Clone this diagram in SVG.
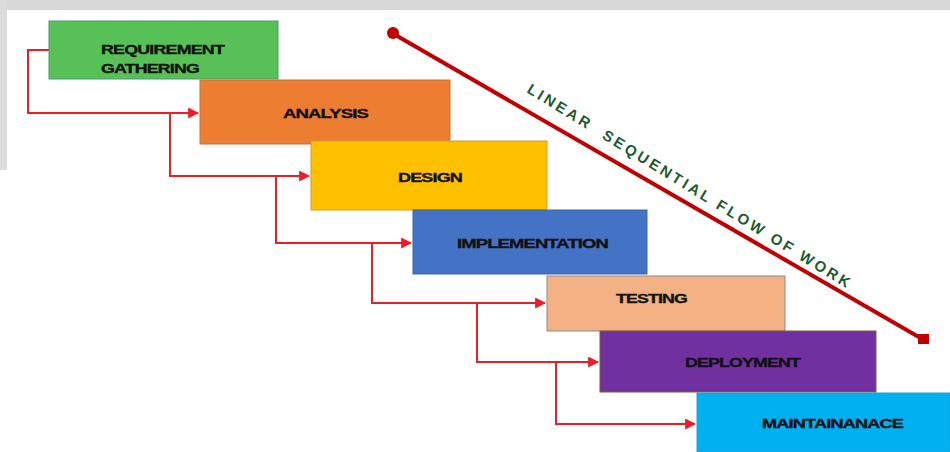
<svg xmlns="http://www.w3.org/2000/svg" width="950" height="452" viewBox="0 0 950 452">
<defs>
<style>
.box{stroke-width:1}
.lbl{font-family:"Liberation Sans",Arial,sans-serif;font-weight:bold;font-size:13px;fill:#111;stroke:#111;stroke-width:0.35;letter-spacing:-0.6px}
.conn{fill:none;stroke:#ee1c25;stroke-width:2}
.flow{font-family:"Liberation Sans",Arial,sans-serif;font-weight:bold;font-size:15px;fill:#1e5a2c;letter-spacing:3px}
</style>
<marker id="ah" viewBox="0 0 10 10" refX="9" refY="5" markerWidth="5.5" markerHeight="5.5" orient="auto" markerUnits="strokeWidth">
<path d="M0,0 L10,5 L0,10 z" fill="#ee1c25"/>
</marker>
</defs>
<rect x="0" y="0" width="950" height="452" fill="#ffffff"/>
<rect x="0" y="0" width="950" height="10" fill="#d8d8d8"/>
<rect x="0" y="0" width="7" height="170" fill="#dcdcdc"/>

<g id="connectors">
<path class="conn" d="M49,50 H28 V113 H198" marker-end="url(#ah)"/>
<path class="conn" d="M170,113 V176 H309" marker-end="url(#ah)"/>
<path class="conn" d="M276,176 V243 H411" marker-end="url(#ah)"/>
<path class="conn" d="M372,243 V303 H545" marker-end="url(#ah)"/>
<path class="conn" d="M477,303 V362 H598" marker-end="url(#ah)"/>
<path class="conn" d="M556,362 V424 H695" marker-end="url(#ah)"/>
</g>

<g id="n1">
<rect class="box" x="49" y="21" width="229" height="58" fill="#57c157" stroke="#4a9a7a"/>
<text class="lbl" x="101" y="54" textLength="123" lengthAdjust="spacingAndGlyphs">REQUIREMENT</text>
<text class="lbl" x="101" y="73" textLength="98" lengthAdjust="spacingAndGlyphs">GATHERING</text>
</g>
<g id="n2">
<rect class="box" x="200" y="80" width="250" height="64" fill="#ed7d31" stroke="#c8733a"/>
<text class="lbl" x="283" y="118" textLength="85" lengthAdjust="spacingAndGlyphs">ANALYSIS</text>
</g>
<g id="n3">
<rect class="box" x="311" y="141" width="236" height="69" fill="#ffc000" stroke="#c9a030"/>
<text class="lbl" x="398" y="182" textLength="64" lengthAdjust="spacingAndGlyphs">DESIGN</text>
</g>
<g id="n4">
<rect class="box" x="413" y="210" width="234" height="64" fill="#4472c4" stroke="#3c64a8"/>
<text class="lbl" x="457" y="248" textLength="151" lengthAdjust="spacingAndGlyphs">IMPLEMENTATION</text>
</g>
<g id="n5">
<rect class="box" x="547" y="276" width="238" height="55" fill="#f4b183" stroke="#8a8a8a"/>
<text class="lbl" x="616" y="303" textLength="71" lengthAdjust="spacingAndGlyphs">TESTING</text>
</g>
<g id="n6">
<rect class="box" x="600" y="331" width="276" height="61" fill="#7030a0" stroke="#8a5a2a"/>
<text class="lbl" x="685" y="367" textLength="115" lengthAdjust="spacingAndGlyphs">DEPLOYMENT</text>
</g>
<g id="n7">
<rect class="box" x="697" y="393" width="253" height="59" fill="#00b0f0" stroke="#2aa0c8"/>
<text class="lbl" x="762" y="428" textLength="141" lengthAdjust="spacingAndGlyphs">MAINTAINANACE</text>
</g>

<g id="flow">
<line x1="392" y1="33" x2="924" y2="340" stroke="#c00000" stroke-width="4"/>
<circle cx="393" cy="33" r="6" fill="#c00000"/>
<rect x="918" y="334" width="11" height="10" fill="#c00000"/>
<text class="flow" transform="translate(526,92) rotate(31.5)" xml:space="preserve">LINEAR  SEQUENTIAL FLOW OF WORK</text>
</g>
</svg>
